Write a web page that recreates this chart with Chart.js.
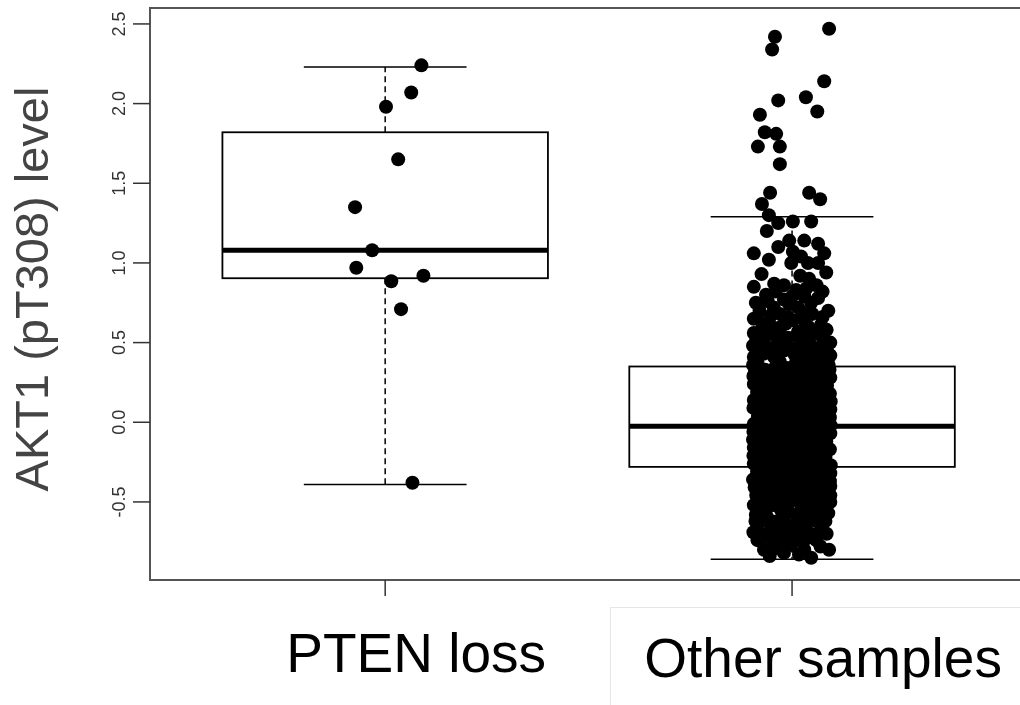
<!DOCTYPE html>
<html lang="en">
<head>
    <meta charset="UTF-8">
    <title>AKT1 (pT308) level</title>
    <script src="https://cdn.jsdelivr.net/npm/chart.js"></script>
    <style>
        body {
            margin: 0;
            padding: 0;
            background: white;
        }
        canvas {
            display: block;
        }
    </style>
</head>
<body>
    <canvas id="boxChart" width="1020" height="705"></canvas>

    <script>
        // groups and box statistics
        const categories = ["PTEN loss", "Other samples"];
        const categoryPos = [1, 2];
        const q1 = [0.904, -0.28];
        const median = [1.08, -0.025];
        const q3 = [1.82, 0.35];
        const whiskerLow = [-0.39, -0.86];
        const whiskerHigh = [2.23, 1.29];
        const yTicks = [-0.5, 0.0, 0.5, 1.0, 1.5, 2.0, 2.5];

        // jittered samples: [offset from group centre, value]
        const ptenPoints = [
            [0.089, 2.24], [0.064, 2.07], [0.002, 1.98], [0.032, 1.65], [-0.074, 1.35],
            [-0.032, 1.08], [-0.071, 0.97], [0.015, 0.885], [0.094, 0.92], [0.039, 0.71],
            [0.067, -0.38]
        ];

        const otherPoints = [
            // upper tail
            [-0.042, 2.42], [-0.049, 2.34], [0.091, 2.47], [0.079, 2.14], [-0.034, 2.02],
            [0.034, 2.04], [0.062, 1.95], [-0.079, 1.93], [-0.067, 1.82], [-0.039, 1.81],
            [-0.084, 1.73], [-0.030, 1.73], [-0.030, 1.62], [-0.054, 1.44], [0.042, 1.44],
            [0.069, 1.40], [-0.074, 1.37], [-0.057, 1.30], [-0.034, 1.25], [0.002, 1.26],
            [0.047, 1.26], [-0.062, 1.20], [-0.007, 1.14], [0.030, 1.14], [0.064, 1.12],
            [-0.034, 1.10], [-0.094, 1.06], [-0.057, 1.02], [0.002, 1.07], [0.022, 1.04],
            [0.079, 1.06], [-0.002, 1.00], [0.039, 1.00], [0.064, 1.00], [0.084, 0.94],
            [0.042, 0.90], [-0.094, 0.85], [-0.044, 0.87],
            // upper middle
            [-0.020, 0.77], [0.015, 0.72], [0.047, 0.75], [0.064, 0.78], [-0.089, 0.75],
            [-0.094, 0.65], [-0.052, 0.67], [-0.027, 0.60], [0.030, 0.64], [0.071, 0.61],
            [0.094, 0.50], [-0.094, 0.56], [-0.069, 0.50], [-0.010, 0.53], [0.039, 0.53],
            [0.054, 0.45], [-0.094, 0.41], [-0.044, 0.41], [0.005, 0.43], [0.079, 0.39],
            [-0.064, 0.80], [0.010, 0.83], [0.089, 0.70], [-0.076, 0.58], [0.002, 0.64],
            [-0.039, 0.48], [0.022, 0.46], [-0.096, 0.48], [0.094, 0.42], [-0.007, 0.74],
            [-0.085, 0.37], [-0.030, 0.38], [0.040, 0.37], [0.090, 0.36], [-0.096, 0.36],
            [0.060, 0.40], [-0.080, 0.70], [-0.045, 0.72], [0.030, 0.79], [0.050, 0.68],
            [-0.010, 0.66], [-0.060, 0.62], [0.015, 0.57], [0.060, 0.56], [0.085, 0.58],
            [-0.030, 0.55], [-0.050, 0.44], [0.030, 0.41], [0.070, 0.47], [-0.075, 0.45],
            [-0.020, 0.86], [0.060, 0.86], [0.020, 0.92], [-0.075, 0.93],
            [-0.088, 0.52], [-0.060, 0.55], [-0.035, 0.50], [-0.005, 0.47], [0.020, 0.52],
            [0.045, 0.49], [0.075, 0.53], [-0.070, 0.43], [-0.020, 0.45], [0.010, 0.38],
            [0.065, 0.44], [0.085, 0.45], [-0.050, 0.60], [-0.015, 0.62], [0.040, 0.60],
            [-0.085, 0.66], [-0.030, 0.68], [0.025, 0.69], [0.075, 0.66], [-0.060, 0.76],
            [0.000, 0.79], [0.035, 0.84], [-0.040, 0.82], [0.075, 0.82],
            // dense core
            [-0.092, 0.34], [-0.066, 0.33], [-0.040, 0.35], [-0.012, 0.34], [0.015, 0.33], [0.041, 0.35], [0.066, 0.34], [0.092, 0.33],
            [-0.080, 0.31], [-0.054, 0.32], [-0.026, 0.30], [0.000, 0.32], [0.027, 0.31], [0.052, 0.30], [0.079, 0.32],
            [-0.095, 0.29], [-0.069, 0.28], [-0.041, 0.30], [-0.015, 0.29], [0.012, 0.28], [0.039, 0.29], [0.068, 0.30], [0.094, 0.28],
            [-0.083, 0.26], [-0.056, 0.27], [-0.028, 0.25], [-0.002, 0.27], [0.025, 0.26], [0.054, 0.25], [0.081, 0.27],
            [-0.094, 0.24], [-0.067, 0.23], [-0.042, 0.25], [-0.013, 0.24], [0.014, 0.23], [0.040, 0.24], [0.066, 0.25], [0.086, 0.23],
            [-0.081, 0.21], [-0.055, 0.22], [-0.029, 0.20], [0.001, 0.22], [0.026, 0.21], [0.052, 0.20], [0.080, 0.22],
            [-0.086, 0.19], [-0.068, 0.18], [-0.040, 0.20], [-0.014, 0.19], [0.013, 0.18], [0.041, 0.19], [0.067, 0.20], [0.093, 0.18],
            [-0.082, 0.16], [-0.054, 0.17], [-0.027, 0.15], [-0.001, 0.17], [0.027, 0.16], [0.053, 0.15], [0.081, 0.17],
            [-0.094, 0.14], [-0.069, 0.13], [-0.041, 0.15], [-0.013, 0.14], [0.012, 0.13], [0.040, 0.14], [0.068, 0.15], [0.095, 0.13],
            [-0.080, 0.11], [-0.056, 0.12], [-0.028, 0.10], [0.000, 0.12], [0.026, 0.11], [0.054, 0.10], [0.079, 0.12],
            [-0.095, 0.09], [-0.067, 0.08], [-0.040, 0.10], [-0.015, 0.09], [0.014, 0.08], [0.039, 0.09], [0.067, 0.10], [0.094, 0.08],
            [-0.082, 0.06], [-0.055, 0.07], [-0.027, 0.05], [0.001, 0.07], [0.025, 0.06], [0.053, 0.05], [0.080, 0.07],
            [-0.084, 0.04], [-0.068, 0.03], [-0.042, 0.05], [-0.013, 0.04], [0.013, 0.03], [0.041, 0.04], [0.066, 0.05], [0.093, 0.03],
            [-0.081, 0.01], [-0.054, 0.02], [-0.029, 0.00], [-0.002, 0.02], [0.027, 0.01], [0.052, 0.00], [0.081, 0.02],
            [-0.094, -0.01], [-0.067, -0.02], [-0.040, 0.00], [-0.014, -0.01], [0.013, -0.02], [0.040, -0.01], [0.068, 0.00], [0.095, -0.02],
            [-0.083, -0.04], [-0.055, -0.03], [-0.028, -0.05], [0.000, -0.03], [0.026, -0.04], [0.054, -0.05], [0.080, -0.03],
            [-0.095, -0.06], [-0.068, -0.07], [-0.041, -0.05], [-0.013, -0.06], [0.014, -0.07], [0.039, -0.06], [0.067, -0.05], [0.094, -0.07],
            [-0.081, -0.09], [-0.056, -0.08], [-0.027, -0.10], [0.001, -0.08], [0.027, -0.09], [0.052, -0.10], [0.079, -0.08],
            [-0.096, -0.11], [-0.069, -0.12], [-0.040, -0.10], [-0.015, -0.11], [0.012, -0.12], [0.041, -0.11], [0.066, -0.10], [0.084, -0.12],
            [-0.082, -0.14], [-0.054, -0.13], [-0.028, -0.15], [-0.001, -0.13], [0.026, -0.14], [0.053, -0.15], [0.081, -0.13],
            [-0.094, -0.16], [-0.067, -0.17], [-0.042, -0.15], [-0.013, -0.16], [0.013, -0.17], [0.040, -0.16], [0.068, -0.15], [0.093, -0.17],
            [-0.080, -0.19], [-0.055, -0.18], [-0.029, -0.20], [0.000, -0.18], [0.025, -0.19], [0.054, -0.20], [0.080, -0.18],
            [-0.095, -0.21], [-0.068, -0.22], [-0.040, -0.20], [-0.014, -0.21], [0.014, -0.22], [0.041, -0.21], [0.067, -0.20], [0.082, -0.22],
            [-0.083, -0.24], [-0.054, -0.23], [-0.027, -0.25], [0.002, -0.23], [0.027, -0.24], [0.052, -0.25], [0.079, -0.23],
            [-0.094, -0.26], [-0.069, -0.27], [-0.041, -0.25], [-0.012, -0.26], [0.013, -0.27], [0.039, -0.26], [0.068, -0.25], [0.095, -0.27],
            [-0.081, -0.29], [-0.056, -0.28], [-0.028, -0.30], [-0.001, -0.28], [0.026, -0.29], [0.053, -0.30], [0.080, -0.28],
            [-0.086, -0.31], [-0.067, -0.32], [-0.040, -0.30], [-0.014, -0.31], [0.012, -0.32], [0.040, -0.31], [0.066, -0.30], [0.094, -0.32],
            [-0.082, -0.34], [-0.055, -0.33], [-0.029, -0.35], [0.000, -0.33], [0.027, -0.34], [0.054, -0.35], [0.081, -0.33],
            [-0.094, -0.36], [-0.068, -0.37], [-0.041, -0.35], [-0.013, -0.36], [0.014, -0.37], [0.041, -0.36], [0.067, -0.35], [0.093, -0.37],
            [-0.080, -0.39], [-0.054, -0.38], [-0.028, -0.40], [0.001, -0.38], [0.026, -0.39], [0.052, -0.40], [0.080, -0.38],
            [-0.092, -0.41], [-0.067, -0.42], [-0.040, -0.40], [-0.015, -0.41], [0.013, -0.42], [0.040, -0.41], [0.068, -0.40], [0.090, -0.42],
            [-0.080, -0.44], [-0.055, -0.43], [-0.027, -0.45], [0.000, -0.43], [0.026, -0.44], [0.053, -0.45], [0.078, -0.43],
            [-0.088, -0.46], [-0.064, -0.47], [-0.038, -0.45], [-0.012, -0.46], [0.015, -0.47], [0.042, -0.46], [0.066, -0.45],
            [-0.076, -0.49], [-0.050, -0.48], [-0.022, -0.50], [0.004, -0.48], [0.030, -0.49], [0.056, -0.50],
            // lower tail
            [-0.095, -0.69], [-0.089, -0.58], [-0.069, -0.80], [-0.039, -0.79], [-0.002, -0.77],
            [0.022, -0.74], [0.047, -0.85], [0.091, -0.80], [0.089, -0.57], [0.094, -0.50],
            [-0.076, -0.49], [-0.052, -0.65], [-0.015, -0.68], [0.034, -0.67], [0.059, -0.62],
            [0.010, -0.58], [-0.027, -0.55], [0.071, -0.43], [-0.084, -0.46], [-0.002, -0.49],
            [-0.047, -0.74], [0.059, -0.74], [0.017, -0.83], [-0.096, -0.36], [0.094, -0.40],
            [-0.064, -0.55], [0.047, -0.52], [-0.094, -0.52], [-0.060, -0.60], [-0.035, -0.62],
            [-0.020, -0.52], [0.025, -0.55], [0.040, -0.60], [0.075, -0.55], [0.082, -0.62],
            [-0.075, -0.70], [-0.030, -0.72], [0.005, -0.70], [0.045, -0.70], [0.070, -0.78],
            [-0.055, -0.84], [-0.020, -0.82], [0.030, -0.80], [-0.090, -0.62], [0.094, -0.46],
            [-0.080, -0.53], [-0.045, -0.52], [-0.010, -0.55], [0.020, -0.51], [0.060, -0.53],
            [0.080, -0.50], [-0.070, -0.60], [-0.020, -0.60], [0.015, -0.63], [0.065, -0.58],
            [-0.085, -0.64], [-0.040, -0.67], [0.000, -0.65], [0.030, -0.62], [0.070, -0.68],
            [-0.060, -0.72], [-0.015, -0.74], [0.035, -0.73], [-0.085, -0.74], [0.085, -0.70]
        ];

        const fontFamily = '"Liberation Sans", Arial, sans-serif';
        const boxHalf = 0.4;
        const capHalf = 0.2;

        function toXY(points, centre) {
            return points.map(p => ({ x: centre + p[0], y: p[1] }));
        }

        const boxPlugin = {
            id: "boxes",
            beforeDatasetsDraw(chart) {
                const ctx = chart.ctx;
                const x = chart.scales.x, y = chart.scales.y;
                ctx.save();
                ctx.strokeStyle = "#000";
                for (let i = 0; i < categories.length; i++) {
                    const c = categoryPos[i];
                    const l = x.getPixelForValue(c - boxHalf);
                    const r = x.getPixelForValue(c + boxHalf);
                    const cx = x.getPixelForValue(c);
                    const cl = x.getPixelForValue(c - capHalf);
                    const cr = x.getPixelForValue(c + capHalf);
                    const yq1 = y.getPixelForValue(q1[i]);
                    const yq3 = y.getPixelForValue(q3[i]);
                    const ymed = y.getPixelForValue(median[i]);
                    const ylo = y.getPixelForValue(whiskerLow[i]);
                    const yhi = y.getPixelForValue(whiskerHigh[i]);

                    // whiskers (dashed)
                    ctx.lineWidth = 1.5;
                    ctx.setLineDash([6, 4]);
                    ctx.beginPath();
                    ctx.moveTo(cx, yq3); ctx.lineTo(cx, yhi);
                    ctx.moveTo(cx, yq1); ctx.lineTo(cx, ylo);
                    ctx.stroke();
                    ctx.setLineDash([]);

                    // caps
                    ctx.beginPath();
                    ctx.moveTo(cl, yhi); ctx.lineTo(cr, yhi);
                    ctx.moveTo(cl, ylo); ctx.lineTo(cr, ylo);
                    ctx.stroke();

                    // box
                    ctx.lineWidth = 1.8;
                    ctx.strokeRect(l, yq3, r - l, yq1 - yq3);

                    // median
                    ctx.lineWidth = 5;
                    ctx.beginPath();
                    ctx.moveTo(l, ymed); ctx.lineTo(r, ymed);
                    ctx.stroke();
                }
                ctx.restore();
            },
            afterDraw(chart) {
                const ctx = chart.ctx;
                const x = chart.scales.x, y = chart.scales.y;
                const area = chart.chartArea;
                ctx.save();

                // plot frame (right side is cut off in the original)
                ctx.strokeStyle = "#555";
                ctx.lineWidth = 2;
                ctx.beginPath();
                ctx.moveTo(chart.width, area.top);
                ctx.lineTo(area.left, area.top);
                ctx.lineTo(area.left, area.bottom);
                ctx.lineTo(chart.width, area.bottom);
                ctx.stroke();

                // y ticks and rotated labels
                ctx.strokeStyle = "#333";
                ctx.lineWidth = 1.5;
                ctx.fillStyle = "#333";
                ctx.font = "18px " + fontFamily;
                ctx.textAlign = "center";
                ctx.textBaseline = "alphabetic";
                yTicks.forEach(v => {
                    const py = y.getPixelForValue(v);
                    ctx.beginPath();
                    ctx.moveTo(area.left - 17, py); ctx.lineTo(area.left, py);
                    ctx.stroke();
                    ctx.save();
                    ctx.translate(area.left - 25, py);
                    ctx.rotate(-Math.PI / 2);
                    ctx.fillText(v.toFixed(1), 0, 0);
                    ctx.restore();
                });

                // y title
                ctx.save();
                ctx.fillStyle = "#444";
                ctx.font = "47px " + fontFamily;
                ctx.translate(48, 289);
                ctx.rotate(-Math.PI / 2);
                ctx.fillText("AKT1 (pT308) level", 0, 0);
                ctx.restore();

                // x ticks
                categoryPos.forEach(c => {
                    const px = x.getPixelForValue(c);
                    ctx.beginPath();
                    ctx.moveTo(px, area.bottom); ctx.lineTo(px, area.bottom + 16);
                    ctx.stroke();
                });

                // faint frame round the second label
                ctx.strokeStyle = "#e6e6e6";
                ctx.lineWidth = 1;
                ctx.strokeRect(610.5, 607.5, 420, 110);

                // category labels
                ctx.fillStyle = "#000";
                ctx.font = "55px " + fontFamily;
                const labelBase = [672, 677];
                categories.forEach((name, i) => {
                    const px = x.getPixelForValue(categoryPos[i]) + 31;
                    ctx.fillText(name, px, labelBase[i]);
                });
                ctx.restore();
            }
        };

        new Chart(document.getElementById("boxChart"), {
            type: "scatter",
            data: {
                datasets: [
                    {
                        label: categories[0],
                        data: toXY(ptenPoints, categoryPos[0]),
                        backgroundColor: "#000",
                        borderWidth: 0,
                        pointRadius: 7
                    },
                    {
                        label: categories[1],
                        data: toXY(otherPoints, categoryPos[1]),
                        backgroundColor: "#000",
                        borderWidth: 0,
                        pointRadius: 7
                    }
                ]
            },
            options: {
                responsive: false,
                animation: false,
                devicePixelRatio: 1,
                layout: { padding: { top: 8, right: 0, left: 0, bottom: 0 } },
                plugins: {
                    legend: { display: false },
                    tooltip: { enabled: false }
                },
                scales: {
                    x: {
                        type: "linear",
                        min: 0.422,
                        max: 2.543,
                        grid: { display: false },
                        border: { display: false },
                        ticks: { display: false },
                        afterFit(scale) { scale.height = 125; }
                    },
                    y: {
                        type: "linear",
                        min: -0.99,
                        max: 2.6,
                        grid: { display: false },
                        border: { display: false },
                        ticks: { display: false },
                        afterFit(scale) { scale.width = 150; }
                    }
                }
            },
            plugins: [boxPlugin]
        });
    </script>
</body>
</html>
